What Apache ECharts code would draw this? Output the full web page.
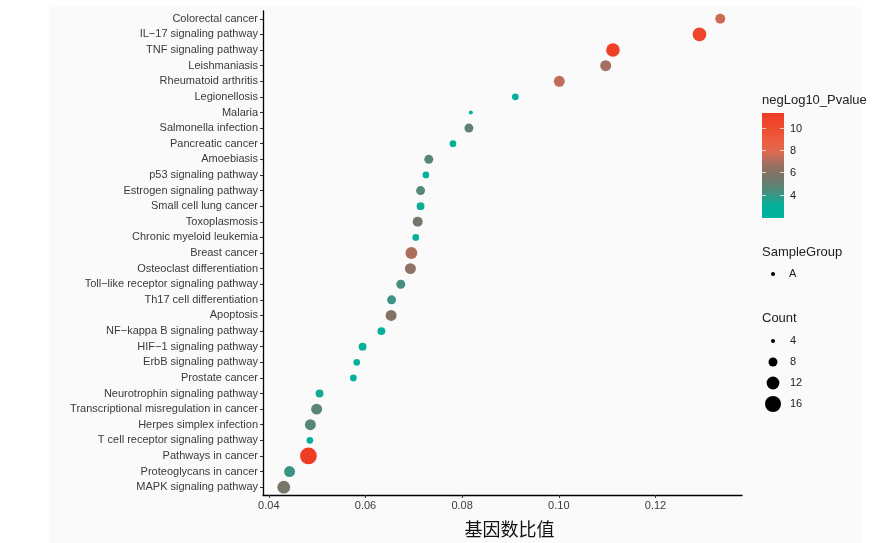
<!DOCTYPE html>
<html style="height: 100%">
<head>
<meta charset="utf-8">
</head>
<body style="height: 100%; margin: 0; background: #fff">
<div id="container" style="width: 879px; height: 543px"></div>
<script type="text/javascript" src="https://cdn.jsdelivr.net/npm/echarts@6/dist/echarts.min.js"></script>
<script type="text/javascript">
// pathways, top to bottom
var pathways = [
    'Colorectal cancer', 'IL\u221217 signaling pathway', 'TNF signaling pathway', 'Leishmaniasis',
    'Rheumatoid arthritis', 'Legionellosis', 'Malaria', 'Salmonella infection', 'Pancreatic cancer',
    'Amoebiasis', 'p53 signaling pathway', 'Estrogen signaling pathway', 'Small cell lung cancer',
    'Toxoplasmosis', 'Chronic myeloid leukemia', 'Breast cancer', 'Osteoclast differentiation',
    'Toll\u2212like receptor signaling pathway', 'Th17 cell differentiation', 'Apoptosis',
    'NF\u2212kappa B signaling pathway', 'HIF\u22121 signaling pathway', 'ErbB signaling pathway',
    'Prostate cancer', 'Neurotrophin signaling pathway', 'Transcriptional misregulation in cancer',
    'Herpes simplex infection', 'T cell receptor signaling pathway', 'Pathways in cancer',
    'Proteoglycans in cancer', 'MAPK signaling pathway'
];
var geneRatio = [
    0.1334, 0.1291, 0.1112, 0.1097, 0.1001, 0.0910, 0.0818, 0.0814, 0.0781,
    0.0731, 0.0725, 0.0714, 0.0714, 0.0708, 0.0704, 0.0695, 0.0693,
    0.0673, 0.0654, 0.0653, 0.0633, 0.0594, 0.0582, 0.0575, 0.0505, 0.0499,
    0.0486, 0.0485, 0.0482, 0.0443, 0.0431
];
var counts = [
    9, 13, 13, 10, 10, 6, 4, 8, 6,
    8, 6, 8, 7, 9, 6, 11, 10,
    8, 8, 10, 7, 7, 6, 6, 7, 10,
    10, 6, 17, 10, 12
];
var negLog10P = [
    7.5, 10.6, 11.0, 6.8, 7.3, 3.0, 2.5, 4.8, 3.0,
    4.5, 3.0, 4.5, 3.2, 5.5, 2.8, 7.0, 6.3,
    4.2, 4.0, 6.0, 3.0, 3.0, 2.8, 2.8, 3.3, 4.7,
    4.6, 3.0, 11.2, 4.0, 5.6
];
var xTicks = [0.04, 0.06, 0.08, 0.10, 0.12];
var colorTicks = [4, 6, 8, 10];
var countTicks = [4, 8, 12, 16];

var colorMin = 1.9, colorMax = 11.3;
var colorStops = ['#00b49e', '#05b09a', '#4a8d7d', '#72766a', '#987063',
                  '#dc6a50', '#ee5a3d', '#ee4a2f', '#ee3b24'];

function dotSize(c) {
    return 6 * Math.sqrt(c) - 8;
}

var dom = document.getElementById('container');
var myChart = echarts.init(dom);

var points = [];
for (var i = 0; i < pathways.length; i++) {
    points.push([geneRatio[i], pathways[i], counts[i], negLog10P[i]]);
}

// colour bar position
var barTop = 113, barBottom = 218, barX = 762, barW = 22;
function barY(v) {
    return barBottom - (v - colorMin) / (colorMax - colorMin) * (barBottom - barTop);
}

var legendFont = 'Liberation Sans, Arial, sans-serif';
var graphics = [
    { type: 'rect', z: -10, shape: { x: 49, y: 7, width: 813, height: 536 }, style: { fill: '#fafafa' } },
    { type: 'text', x: barX, y: 100, style: { text: 'negLog10_Pvalue', font: '13px ' + legendFont, fill: '#222', verticalAlign: 'middle' } },
    {
        type: 'rect',
        shape: { x: barX, y: barTop, width: barW, height: barBottom - barTop },
        style: {
            fill: new echarts.graphic.LinearGradient(0, 1, 0, 0, colorStops.map(function (c, k) {
                return { offset: k / (colorStops.length - 1), color: c };
            }))
        }
    },
    { type: 'text', x: barX, y: 252, style: { text: 'SampleGroup', font: '13px ' + legendFont, fill: '#222', verticalAlign: 'middle' } },
    { type: 'circle', shape: { cx: 773, cy: 274, r: 2 }, style: { fill: '#000' } },
    { type: 'text', x: 789, y: 274, style: { text: 'A', font: '11px ' + legendFont, fill: '#222', verticalAlign: 'middle' } },
    { type: 'text', x: barX, y: 318, style: { text: 'Count', font: '13px ' + legendFont, fill: '#222', verticalAlign: 'middle' } }
];
colorTicks.forEach(function (v) {
    var y = Math.round(barY(v)) + 0.5;
    graphics.push({ type: 'line', shape: { x1: barX, y1: y, x2: barX + 4, y2: y }, style: { stroke: 'rgba(255,255,255,0.7)', lineWidth: 1 } });
    graphics.push({ type: 'line', shape: { x1: barX + barW - 4, y1: y, x2: barX + barW, y2: y }, style: { stroke: 'rgba(255,255,255,0.7)', lineWidth: 1 } });
    graphics.push({ type: 'text', x: 790, y: y, style: { text: String(v), font: '11px ' + legendFont, fill: '#222', verticalAlign: 'middle' } });
});
countTicks.forEach(function (c, k) {
    var y = 341 + k * 21;
    graphics.push({ type: 'circle', shape: { cx: 773, cy: y, r: dotSize(c) / 2 }, style: { fill: '#000' } });
    graphics.push({ type: 'text', x: 790, y: y, style: { text: String(c), font: '11px ' + legendFont, fill: '#222', verticalAlign: 'middle' } });
});

var option = {
    backgroundColor: '#ffffff',
    animation: false,
    grid: { left: 263, right: 137, top: 11, bottom: 45 },
    xAxis: {
        type: 'value',
        min: 0.0388,
        max: 0.1379,
        splitLine: { show: false },
        axisLine: { show: true, lineStyle: { color: '#000', width: 1.3 } },
        axisTick: { show: true, length: 3, lineStyle: { color: '#333' }, customValues: xTicks },
        axisLabel: {
            customValues: xTicks,
            color: '#3a3a3a', fontSize: 11, fontFamily: legendFont, margin: 5,
            formatter: function (v) { return v.toFixed(2); }
        },
        name: '基因数比值',
        nameLocation: 'middle',
        nameGap: 25,
        nameTextStyle: { fontSize: 18, color: '#111', fontFamily: 'Noto Sans CJK SC', verticalAlign: 'top', padding: [0, 0, 0, 14] }
    },
    yAxis: {
        type: 'category',
        data: pathways,
        inverse: true,
        axisLine: { show: true, lineStyle: { color: '#000', width: 1.3 } },
        axisTick: { show: true, length: 3, alignWithLabel: true, lineStyle: { color: '#333' } },
        axisLabel: { color: '#3a3a3a', fontSize: 11, fontFamily: legendFont, margin: 5, interval: 0 },
        splitLine: { show: false }
    },
    visualMap: {
        show: false,
        type: 'continuous',
        dimension: 3,
        min: colorMin,
        max: colorMax,
        inRange: { color: colorStops }
    },
    series: [{
        type: 'scatter',
        data: points,
        symbolSize: function (val) { return dotSize(val[2]); },
        itemStyle: { opacity: 1 }
    }],
    graphic: graphics
};

myChart.setOption(option);
</script>
</body>
</html>
